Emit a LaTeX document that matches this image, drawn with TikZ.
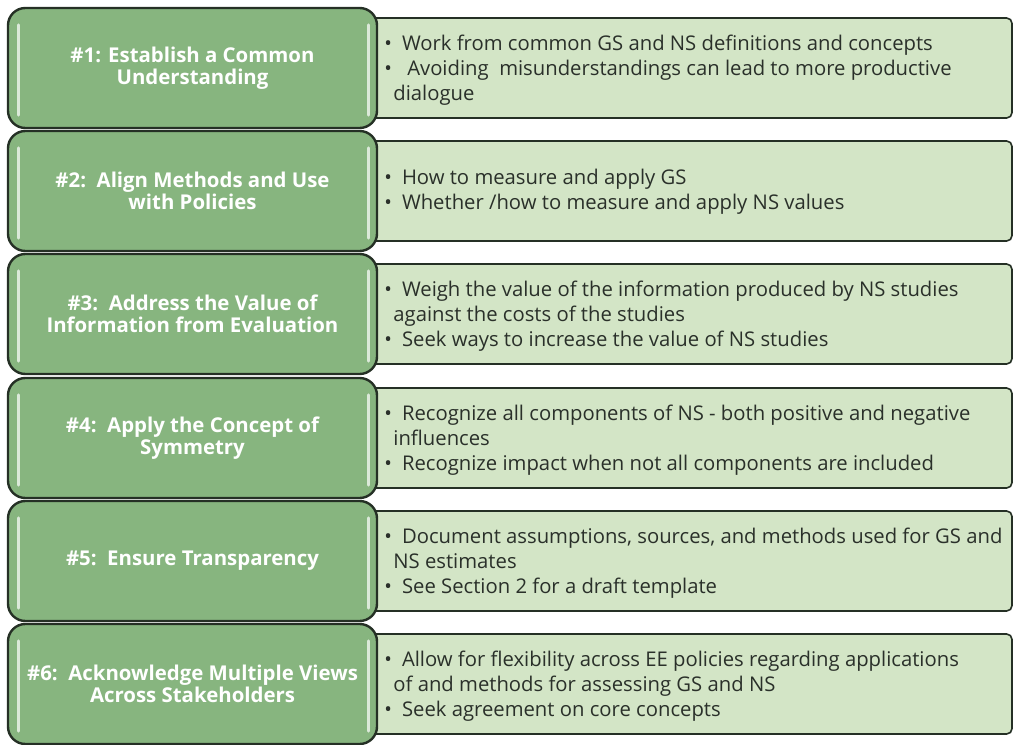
\documentclass[tikz,border=0pt]{standalone}
\usepackage{fontspec}
\setmainfont{Open Sans}
\usetikzlibrary{positioning}

\definecolor{stepgreen}{HTML}{87B57F}
\definecolor{notegreen}{HTML}{D3E5C6}
\definecolor{edgedark}{HTML}{253025}
\definecolor{notetext}{HTML}{2A302A}

\newcommand{\pt}{\textbullet\hspace{0.5em}}
\newcommand{\wrapped}{\hspace*{0.45em}}

\begin{document}
\begin{tikzpicture}[x=0.75pt, y=-0.75pt,
  stepbox/.style={draw=edgedark, line width=1.8pt, fill=stepgreen, rounded corners=13pt,
    minimum width=369*0.75pt, minimum height=120*0.75pt, inner sep=0pt,
    text=white, font=\bfseries\fontsize{15.3}{16.8}\selectfont, align=center},
  notebox/.style={draw=edgedark, line width=1.2pt, fill=notegreen, rounded corners=4pt,
    minimum width=672*0.75pt, minimum height=100*0.75pt, inner sep=0pt},
  notetxt/.style={anchor=west, inner sep=0pt, text=notetext, align=left,
    font=\fontsize{15.2}{18.75}\selectfont},
  glint/.style={draw=white!70!stepgreen, line width=2pt, line cap=round}]
\useasboundingbox (0,0) rectangle (1016,745);

% light boxes behind
\node[notebox] (n1) at (676,68) {};
\node[notebox] (n2) at (676,191) {};
\node[notebox] (n3) at (676,314) {};
\node[notebox] (n4) at (676,438) {};
\node[notebox] (n5) at (676,561) {};
\node[notebox] (n6) at (676,684) {};

% principle boxes
\node[stepbox] (s1) at (192.5,68) {\#1: Establish a Common\\Understanding};
\node[stepbox] (s2) at (192.5,191) {\#2:\ \ Align Methods and Use\\with Policies};
\node[stepbox] (s3) at (192.5,314) {\#3:\ \ Address the Value of\\Information from Evaluation};
\node[stepbox] (s4) at (192.5,438) {\#4:\ \ Apply the Concept of\\Symmetry};
\node[stepbox] (s5) at (192.5,561) {\#5:\ \ Ensure Transparency};
\node[stepbox] (s6) at (192.5,684) {\#6:\ \ Acknowledge Multiple Views\\Across Stakeholders};

\foreach \i in {1,...,6} {
  \draw[glint] ([shift={(12,18)}]s\i.north west) -- ([shift={(12,-14)}]s\i.south west);
  \draw[glint] ([shift={(-10,18)}]s\i.north east) -- ([shift={(-10,-14)}]s\i.south east);
}

% bullet texts
\node[notetxt] (t1) at (384,70) {\pt Work from common GS and NS definitions and concepts\\
  \pt\ Avoiding\ \ misunderstandings can lead to more productive\\
  \wrapped dialogue};
\node[notetxt] (t2) at (384,192) {\pt How to measure and apply GS\\
  \pt Whether /how to measure and apply NS values};
\node[notetxt] (t3) at (384,316) {\pt Weigh the value of the information produced by NS studies\\
  \wrapped against the costs of the studies\\
  \pt Seek ways to increase the value of NS studies};
\node[notetxt] (t4) at (384,440) {\pt Recognize all components of NS - both positive and negative\\
  \wrapped influences\\
  \pt Recognize impact when not all components are included};
\node[notetxt] (t5) at (384,563) {\pt Document assumptions, sources, and methods used for GS and\\
  \wrapped NS estimates\\
  \pt See Section 2 for a draft template};
\node[notetxt] (t6) at (384,686) {\pt Allow for flexibility across EE policies regarding applications\\
  \wrapped of and methods for assessing GS and NS\\
  \pt Seek agreement on core concepts};
\end{tikzpicture}
\end{document}
